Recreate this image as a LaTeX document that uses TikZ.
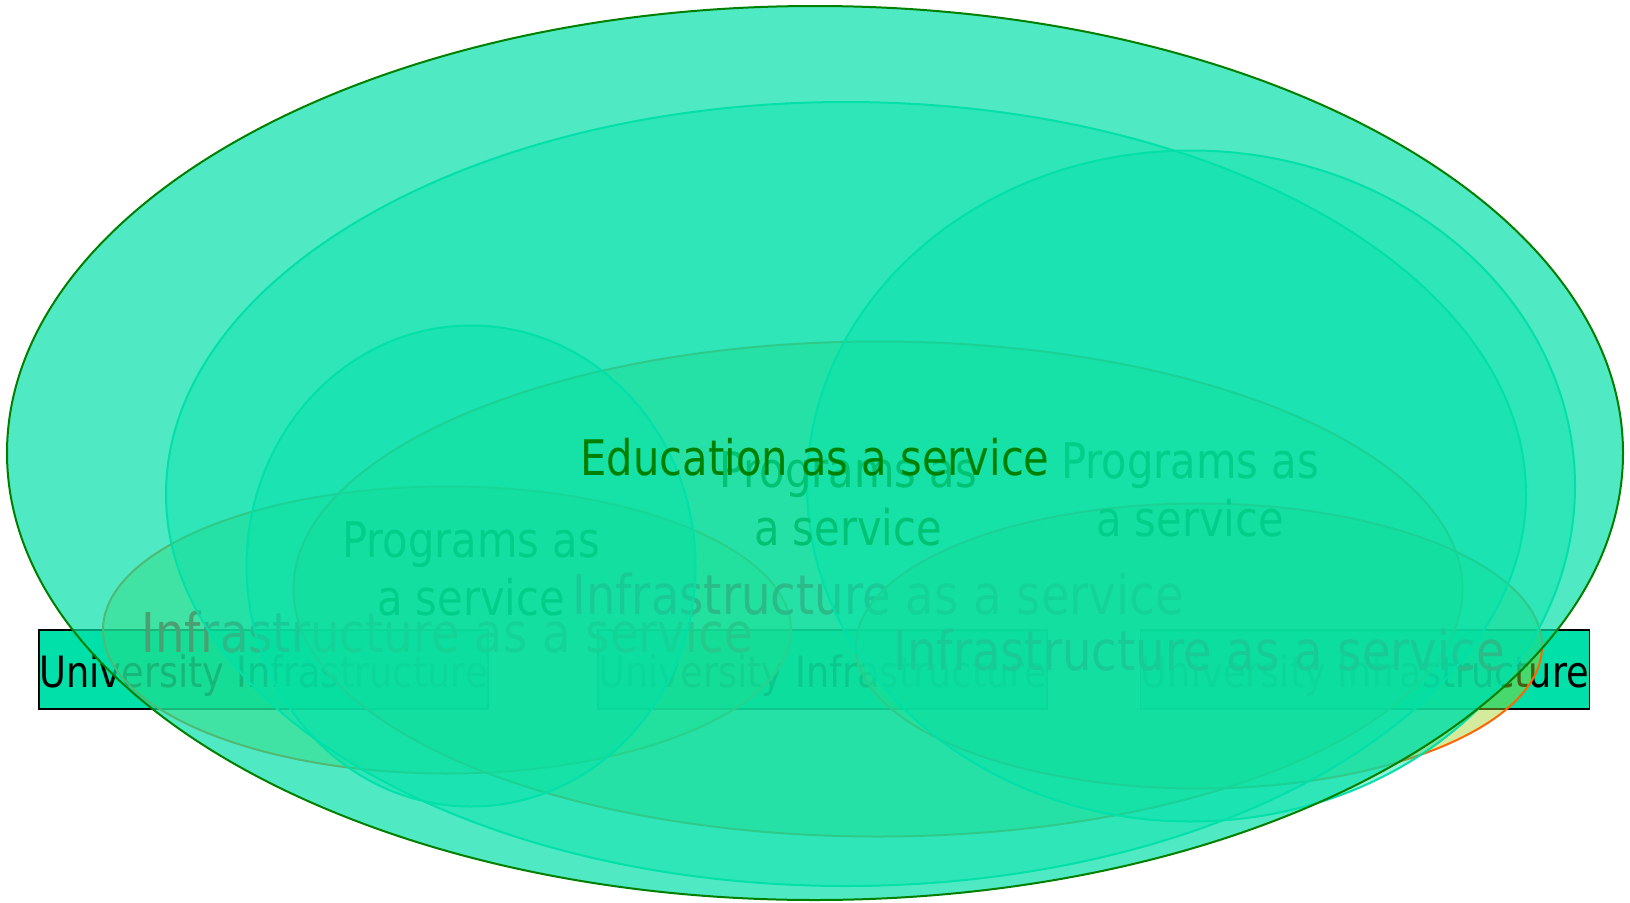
\documentclass[tikz,border=0pt]{standalone}
\usepackage{fontspec}
\newfontfamily\diagfont{DejaVu Sans}[FakeStretch=0.85]
\usetikzlibrary{shapes.geometric}

\definecolor{aqua}{RGB}{0,224,168}
\definecolor{iaasfill}{RGB}{160,210,40}
\definecolor{iaasline}{RGB}{255,102,0}
\definecolor{iaastext}{RGB}{240,20,0}
\definecolor{eduline}{RGB}{0,128,0}

\tikzset{
	unibox/.style={rectangle, draw=black, line width=1.8pt, fill=aqua, inner sep=0pt, minimum width=449pt, minimum height=79pt},
	unitxt/.style={inner sep=0pt, anchor=base, text=black, font=\diagfont\fontsize{43.2}{50}\selectfont},
	iaas/.style={ellipse, draw=iaasline, line width=2pt, fill=iaasfill, fill opacity=0.45, inner sep=0pt},
	iaastxt/.style={inner sep=0pt, anchor=base, text=iaastext, font=\diagfont\fontsize{54.8}{64}\selectfont},
	paas/.style={ellipse, draw=aqua, line width=2pt, fill=aqua, fill opacity=0.42, inner sep=0pt},
	paastxt/.style={inner sep=0pt, align=center, text=eduline, font=\diagfont\fontsize{49}{58}\selectfont},
	eaas/.style={ellipse, draw=eduline, line width=2pt, fill=aqua, fill opacity=0.69, inner sep=0pt},
	eaastxt/.style={inner sep=0pt, anchor=base, text=eduline, font=\diagfont\fontsize{49}{58}\selectfont}
}

\begin{document}
\begin{tikzpicture}[x=1pt, y=-1pt]
			\useasboundingbox (0,0) rectangle (1630,902);
			\node[unibox] (uni1) at (263.5,669.5) {};
			\node[unitxt] (uni1txt) at ([yshift=-17.5pt]uni1.center) {University Infrastructure};
			\node[unibox] (uni2) at (822.5,669.5) {};
			\node[unitxt] (uni2txt) at ([yshift=-17.5pt]uni2.center) {University Infrastructure};
			\node[unibox] (uni3) at (1365,669.5) {};
			\node[unitxt] (uni3txt) at ([yshift=-17.5pt]uni3.center) {University Infrastructure};

			\node[iaas, minimum width=688pt, minimum height=287pt] (iaas1) at (447,630) {};
			\node[iaastxt] (iaas1txt) at (447,652) {Infrastructure as a service};
			\node[iaas, minimum width=1169pt, minimum height=495pt] (iaas2) at (878,589) {};
			\node[iaastxt] (iaas2txt) at (878,614) {Infrastructure as a service};
			\node[iaas, minimum width=686pt, minimum height=285pt] (iaas3) at (1199,646) {};
			\node[iaastxt] (iaas3txt) at (1199,670) {Infrastructure as a service};

			\node[paas, minimum width=449pt, minimum height=481pt] (paas2) at (471,566) {};
			\node[paastxt] (paas2txt) at (471,569) {Programs as\\a service};
			\node[paas, minimum width=768pt, minimum height=671pt] (paas3) at (1191,486) {};
			\node[paastxt] (paas3txt) at (1190,490) {Programs as\\a service};
			\node[paas, minimum width=1360pt, minimum height=784pt] (paas1) at (846,494) {};
			\node[paastxt] (paas1txt) at (848,499) {Programs as\\a service};

			\node[eaas, minimum width=1616pt, minimum height=894pt] (eaas) at (815,453) {};
			\node[eaastxt] (eaastxt) at ([yshift=-22pt]eaas.center) {Education as a service};
\end{tikzpicture}
\end{document}
